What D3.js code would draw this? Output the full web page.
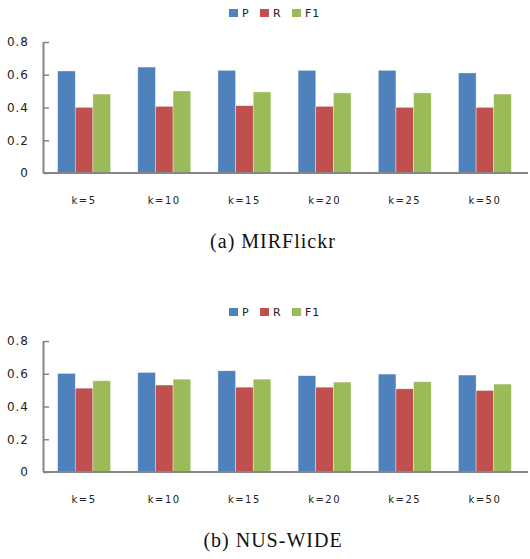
<!DOCTYPE html>
<html>
<head>
<meta charset="utf-8">
<script src="https://cdn.jsdelivr.net/npm/d3@7"></script>
<style>
  body { margin: 0; background: #fff; }
</style>
</head>
<body>
<div id="chart"></div>
<script>
// data
var categories = ["k=5", "k=10", "k=15", "k=20", "k=25", "k=50"];
var seriesNames = ["P", "R", "F1"];
var colors = ["#4F81BD", "#C0504D", "#9BBB59"];
var yTicks = [0, 0.2, 0.4, 0.6, 0.8];

var mirP  = [0.623, 0.647, 0.627, 0.627, 0.627, 0.611];
var mirR  = [0.401, 0.407, 0.411, 0.407, 0.401, 0.401];
var mirF1 = [0.482, 0.501, 0.495, 0.489, 0.489, 0.482];

var nusP  = [0.602, 0.608, 0.618, 0.588, 0.598, 0.592];
var nusR  = [0.512, 0.531, 0.518, 0.518, 0.508, 0.498];
var nusF1 = [0.557, 0.567, 0.567, 0.549, 0.551, 0.537];

var width = 530, height = 559;

var svg = d3.select("#chart")
            .append("svg")
            .attr("width", width)
            .attr("height", height);

function drawPanel(top, series, caption) {
    var g = svg.append("g").attr("transform", "translate(0," + top + ")");

    // plot area in panel coords
    var yBase = 173, yTop = 42, xLeft = 44, xRight = 525;

    var x0 = d3.scaleBand()
        .domain(categories)
        .range([xLeft, xRight])
        .paddingInner(0.34)
        .paddingOuter(0.17);

    var x1 = d3.scaleBand()
        .domain(seriesNames)
        .range([0, x0.bandwidth()]);

    var y = d3.scaleLinear()
        .domain([0, 0.8])
        .range([yBase, yTop]);

    var color = d3.scaleOrdinal().domain(seriesNames).range(colors);

    // legend
    var legendX = [229, 260, 292];
    var legend = g.selectAll(".legend")
        .data(seriesNames)
        .enter()
        .append("g")
        .attr("class", "legend")
        .attr("transform", function(d, i) { return "translate(" + legendX[i] + ",9)"; });

    legend.append("rect")
        .attr("width", 9)
        .attr("height", 8)
        .style("fill", color);

    legend.append("text")
        .attr("x", 13)
        .attr("y", 8)
        .style("font-family", "DejaVu Sans, Verdana, sans-serif")
        .style("font-size", "11px")
        .style("letter-spacing", "1px")
        .style("fill", "#222")
        .text(function(d) { return d; });

    // bars
    var rows = categories.map(function(c, i) {
        return { cat: c, vals: seriesNames.map(function(s, j) { return { key: s, value: series[j][i] }; }) };
    });

    g.append("g")
        .selectAll("g")
        .data(rows)
        .enter()
        .append("g")
        .attr("transform", function(d) { return "translate(" + x0(d.cat) + ",0)"; })
        .selectAll("rect")
        .data(function(d) { return d.vals; })
        .enter()
        .append("rect")
        .attr("x", function(d) { return x1(d.key); })
        .attr("y", function(d) { return y(d.value); })
        .attr("width", x1.bandwidth())
        .attr("height", function(d) { return yBase - y(d.value); })
        .style("fill", function(d) { return color(d.key); })
        .style("stroke", "rgba(255,255,255,0.6)")
        .style("stroke-width", 0.6);

    // y axis
    var yAxis = g.append("g")
        .attr("transform", "translate(" + xLeft + ",0)")
        .call(d3.axisLeft(y).tickValues(yTicks).tickSize(-5).tickPadding(15)
              .tickFormat(function(d) { return d === 0 ? "0" : d3.format(".1f")(d); }));
    yAxis.select(".domain").attr("d", "M-0.5," + yTop + "V" + yBase).style("stroke", "#868686").style("stroke-width", 2);
    yAxis.selectAll(".tick line").style("stroke", "#868686").style("stroke-width", 1.5);
    yAxis.selectAll("text")
        .style("font-family", "DejaVu Sans, Verdana, sans-serif")
        .style("font-size", "12px")
        .style("letter-spacing", "1px")
        .style("fill", "#222");

    // x axis line
    g.append("line")
        .attr("x1", xLeft - 1)
        .attr("x2", 528)
        .attr("y1", yBase)
        .attr("y2", yBase)
        .style("stroke", "#868686")
        .style("stroke-width", 2);

    // category labels
    g.selectAll(".xlab")
        .data(categories)
        .enter()
        .append("text")
        .attr("class", "xlab")
        .attr("x", function(d) { return x0(d) + x0.bandwidth() / 2; })
        .attr("y", 204)
        .attr("text-anchor", "middle")
        .style("font-family", "DejaVu Sans, Verdana, sans-serif")
        .style("font-size", "10px")
        .style("letter-spacing", "1.5px")
        .style("fill", "#222")
        .text(function(d) { return d; });

    // caption
    g.append("text")
        .attr("x", 273)
        .attr("y", 248)
        .attr("text-anchor", "middle")
        .style("font-family", "Liberation Serif, serif")
        .style("font-size", "20px")
        .style("letter-spacing", "1px")
        .style("fill", "#111")
        .text(caption);
}

drawPanel(0, [mirP, mirR, mirF1], "(a) MIRFlickr");
drawPanel(299, [nusP, nusR, nusF1], "(b) NUS-WIDE");
</script>
</body>
</html>
